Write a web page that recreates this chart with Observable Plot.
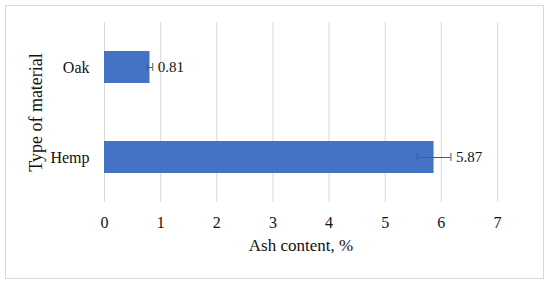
<!DOCTYPE html>
<html>
<head>
<meta charset="utf-8">
<script src="https://cdn.jsdelivr.net/npm/d3@7"></script>
<script src="https://cdn.jsdelivr.net/npm/@observablehq/plot@0.6"></script>
<style>
  html, body { margin: 0; padding: 0; background: #fff; }
  #wrap { position: relative; width: 550px; height: 285px; }
  #frame { position: absolute; left: 5px; top: 5px; width: 539px; height: 274px; border: 1px solid #d9d9d9; box-sizing: border-box; }
  #chart { position: absolute; left: 0; top: 0; }
  #chart svg text { font-family: 'Liberation Serif', 'DejaVu Serif', serif !important; font-size: 16px !important; font-variant: normal !important; fill: #111; }
  #chart svg g[aria-label="x-axis label"] text { font-size: 17px !important; }
  #chart svg g[aria-label="y-axis label"] text { font-size: 18px !important; }
  #chart svg g[aria-label="text"] text { font-size: 15px !important; }
</style>
</head>
<body>
<div id="wrap"><div id="frame"></div><div id="chart"></div></div>
<script>
const materials = ["Oak", "Hemp"];
const ashContent = [0.81, 5.87];
const ashError = [0.05, 0.30];
const labels = ["0.81", "5.87"];
const xTicks = [0, 1, 2, 3, 4, 5, 6, 7];

const data = materials.map((m, i) => ({
  material: m, value: ashContent[i], err: ashError[i], label: labels[i]
}));

const chart = Plot.plot({
  width: 550,
  height: 285,
  marginLeft: 104,
  marginRight: 53,
  marginTop: 22,
  marginBottom: 83,
  style: { background: "transparent" },
  x: { domain: [0, 7], ticks: xTicks },
  y: { domain: materials, paddingInner: 0.645, paddingOuter: 0.32 },
  marks: [
    Plot.gridX(xTicks, { stroke: "#d9d9d9", strokeOpacity: 1, strokeWidth: 1 }),
    Plot.barX(data, { x: "value", y: "material", fill: "#4472c4" }),
    Plot.ruleY(data, { x1: d => d.value - d.err, x2: d => d.value + d.err, y: "material", stroke: "#595959", strokeWidth: 1 }),
    Plot.tickX(data, { x: d => d.value - d.err, y: "material", stroke: "#595959", insetTop: 12, insetBottom: 12 }),
    Plot.tickX(data, { x: d => d.value + d.err, y: "material", stroke: "#595959", insetTop: 12, insetBottom: 12 }),
    Plot.text(data, { x: d => d.value + d.err, y: "material", text: "label", textAnchor: "start", dx: 5 }),
    Plot.axisX(xTicks, { tickSize: 0, tickPadding: 14, label: "Ash content, %", labelAnchor: "center", labelOffset: 48, labelArrow: "none" }),
    Plot.axisY({ tickSize: 0, tickPadding: 15, label: "Type of material", labelAnchor: "center", labelOffset: 75, labelArrow: "none" })
  ]
});
document.getElementById("chart").appendChild(chart);
</script>
</body>
</html>
